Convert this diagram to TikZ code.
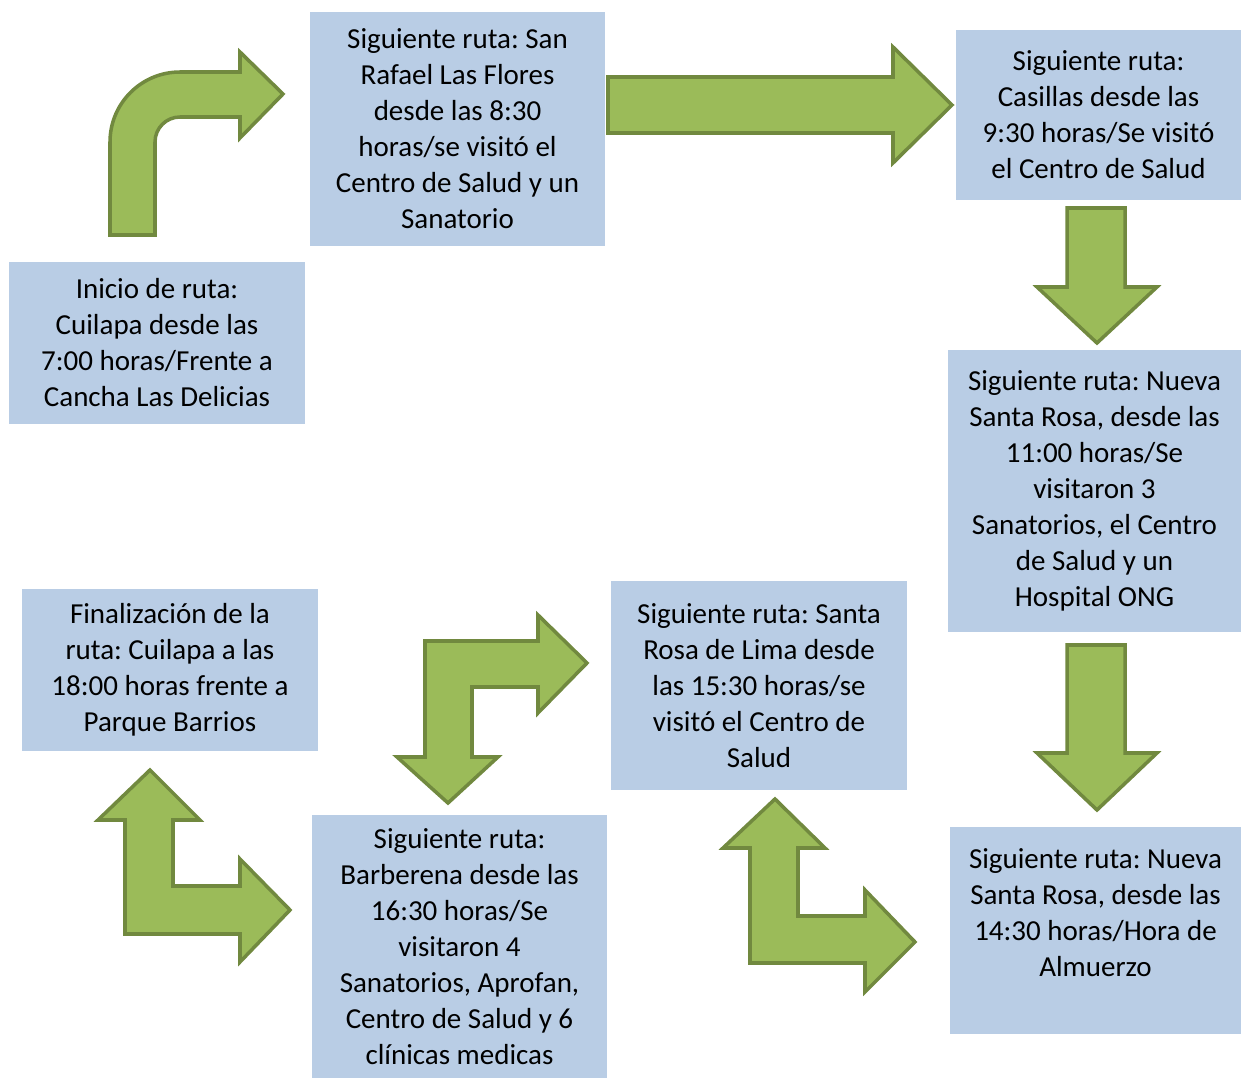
\documentclass[tikz,border=0pt]{standalone}
\usepackage{fontspec}
\setmainfont{Carlito}
\usepackage{tikz}
\frenchspacing

\definecolor{cajaazul}{HTML}{B9CDE5}
\definecolor{verde}{HTML}{9BBB59}
\definecolor{verdeborde}{HTML}{71893F}

\begin{document}
\begin{tikzpicture}[x=0.02cm, y=-0.02cm,
	caja/.style={shape=rectangle, fill=cajaazul, inner sep=0pt, align=center, font=\fontsize{16.5}{20.5}\selectfont},
	flecha/.style={fill=verde, draw=verdeborde, line width=2pt, line join=miter}]
	
	\useasboundingbox (0, 0) rectangle (1242, 1078);
	
	\node[caja, minimum width=5.92cm, minimum height=3.24cm] (inicio) at (157, 343)     {Inicio de ruta:\\ Cuilapa desde las\\ 7:00 horas/Frente a\\ Cancha Las Delicias};
	\node[caja, minimum width=5.90cm, minimum height=4.68cm] (sanrafael) at (457.5, 129) {Siguiente ruta: San\\ Rafael Las Flores\\ desde las 8:30\\ horas/se visitó el\\ Centro de Salud y un\\ Sanatorio};
	\node[caja, minimum width=5.70cm, minimum height=3.40cm] (casillas) at (1098.5, 115) {Siguiente ruta:\\ Casillas desde las\\ 9:30 horas/Se visitó\\ el Centro de Salud};
	\node[caja, minimum width=5.86cm, minimum height=5.64cm] (nuevasr) at (1094.5, 491) {Siguiente ruta: Nueva\\ Santa Rosa, desde las\\ 11:00 horas/Se\\ visitaron 3\\ Sanatorios, el Centro\\ de Salud y un\\ Hospital ONG};
	\node[caja, minimum width=5.82cm, minimum height=4.14cm] (almuerzo) at (1095.5, 930.5) {Siguiente ruta: Nueva\\ Santa Rosa, desde las\\ 14:30 horas/Hora de\\ Almuerzo\\ ~};
	\node[caja, minimum width=5.92cm, minimum height=4.18cm] (santarosa) at (759, 685.5) {Siguiente ruta: Santa\\ Rosa de Lima desde\\ las 15:30 horas/se\\ visitó el Centro de\\ Salud};
	\node[caja, minimum width=5.90cm, minimum height=5.26cm] (barberena) at (459.5, 946.5) {Siguiente ruta:\\ Barberena desde las\\ 16:30 horas/Se\\ visitaron 4\\ Sanatorios, Aprofan,\\ Centro de Salud y 6\\ clínicas medicas};
	\node[caja, minimum width=5.92cm, minimum height=3.24cm] (final) at (170, 670)      {Finalización de la\\ ruta: Cuilapa a las\\ 18:00 horas frente a\\ Parque Barrios};
	
	% flechas
	\draw[flecha] (110, 235) [rounded corners=1.4cm]-- (110, 72) [sharp corners]-- (240, 72) -- (240, 52) -- (283, 94) -- (240, 138) -- (240, 117) [rounded corners=0.5cm]-- (155, 117) [sharp corners]-- (155, 235) -- cycle;
	\draw[flecha] (608, 77) -- (893, 77) -- (893, 47) -- (952, 105) -- (893, 163) -- (893, 133) -- (608, 133) -- cycle;
	\draw[flecha] (1067, 208) -- (1125, 208) -- (1125, 287) -- (1157, 287) -- (1097, 343) -- (1037, 287) -- (1067, 287) -- cycle;
	\draw[flecha] (1067, 645) -- (1125, 645) -- (1125, 753) -- (1157, 753) -- (1097, 810) -- (1037, 753) -- (1067, 753) -- cycle;
	\draw[flecha] (775, 799) -- (825, 848) -- (798, 848) -- (798, 916) -- (865, 916) -- (865, 890) -- (915, 942) -- (865, 992) -- (865, 963) -- (750, 963) -- (750, 848) -- (723, 848) -- cycle;
	\draw[flecha] (425, 641) -- (538, 641) -- (538, 615) -- (587, 663) -- (538, 713) -- (538, 687) -- (472, 687) -- (472, 757) -- (498, 757) -- (448, 803) -- (397, 757) -- (425, 757) -- cycle;
	\draw[flecha] (150, 770) -- (200, 820) -- (173, 820) -- (173, 886) -- (240, 886) -- (240, 859) -- (290, 910) -- (240, 962) -- (240, 934) -- (125, 934) -- (125, 820) -- (98, 820) -- cycle;
	
\end{tikzpicture}
\end{document}
